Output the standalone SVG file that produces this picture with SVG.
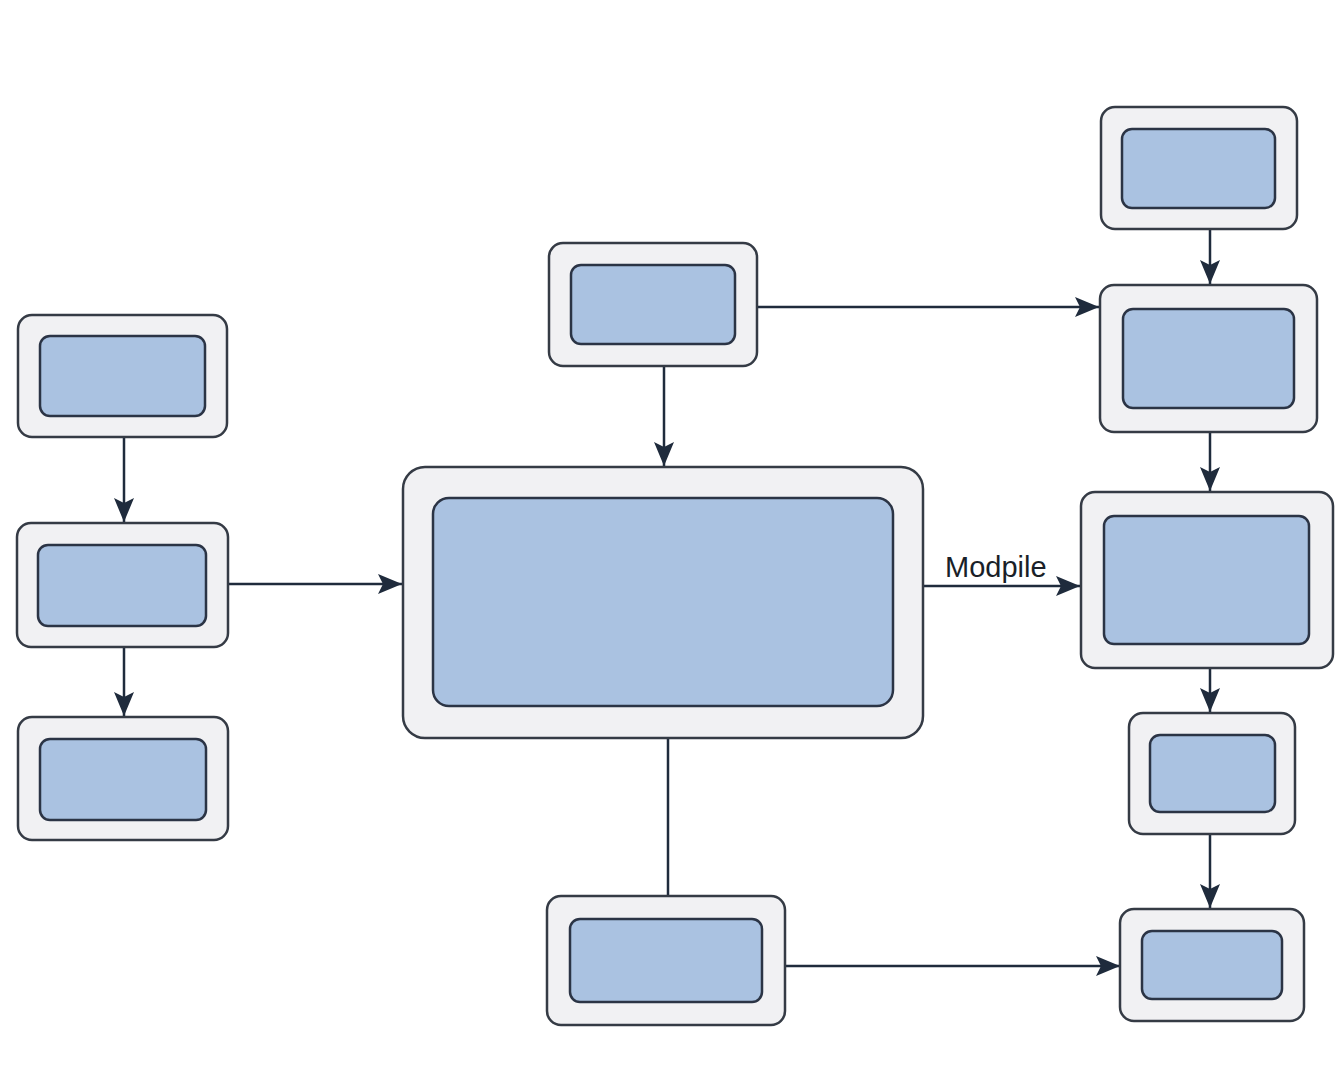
<svg xmlns="http://www.w3.org/2000/svg" width="1344" height="1092" viewBox="0 0 1344 1092">
<style>
.o{fill:#f1f1f3;stroke:#353b45;stroke-width:2.5}
.i{fill:#aac2e1;stroke:#2b3445;stroke-width:2.5}
.c{stroke:#1f2b3c;stroke-width:2.5;fill:none}
.t{font-family:"Liberation Sans",Arial,sans-serif;font-size:29px;fill:#1a1f28}
</style>
<defs>
<marker id="ah" viewBox="0 0 24 24" refX="24" refY="12" markerWidth="24" markerHeight="24" markerUnits="userSpaceOnUse" orient="auto">
<path d="M0,2 L24,12 L0,22 L5,12 z" fill="#1f2b3c"/>
</marker>
</defs>
<rect width="1344" height="1092" fill="#ffffff"/>
<g id="connectors">
<line class="c" x1="124" y1="437" x2="124" y2="522" marker-end="url(#ah)"/>
<line class="c" x1="124" y1="647" x2="124" y2="716" marker-end="url(#ah)"/>
<line class="c" x1="228" y1="584" x2="402" y2="584" marker-end="url(#ah)"/>
<line class="c" x1="664" y1="366" x2="664" y2="466" marker-end="url(#ah)"/>
<line class="c" x1="757" y1="307" x2="1099" y2="307" marker-end="url(#ah)"/>
<line class="c" x1="668" y1="738" x2="668" y2="896"/>
<line class="c" x1="785" y1="966" x2="1120" y2="966" marker-end="url(#ah)"/>
<line class="c" x1="923" y1="586" x2="1080" y2="586" marker-end="url(#ah)"/>
<line class="c" x1="1210" y1="229" x2="1210" y2="284" marker-end="url(#ah)"/>
<line class="c" x1="1210" y1="432" x2="1210" y2="491" marker-end="url(#ah)"/>
<line class="c" x1="1210" y1="668" x2="1210" y2="712" marker-end="url(#ah)"/>
<line class="c" x1="1210" y1="834" x2="1210" y2="908" marker-end="url(#ah)"/>
<text class="t" x="945" y="577">Modpile</text>
</g>
<g id="L1"><rect class="o" x="18" y="315" width="209" height="122" rx="14"/><rect class="i" x="40" y="336" width="165" height="80" rx="10"/></g>
<g id="L2"><rect class="o" x="17" y="523" width="211" height="124" rx="14"/><rect class="i" x="38" y="545" width="168" height="81" rx="10"/></g>
<g id="L3"><rect class="o" x="18" y="717" width="210" height="123" rx="14"/><rect class="i" x="40" y="739" width="166" height="81" rx="10"/></g>
<g id="center"><rect class="o" x="403" y="467" width="520" height="271" rx="22"/><rect class="i" x="433" y="498" width="460" height="208" rx="16"/></g>
<g id="top"><rect class="o" x="549" y="243" width="208" height="123" rx="14"/><rect class="i" x="571" y="265" width="164" height="79" rx="10"/></g>
<g id="bottom"><rect class="o" x="547" y="896" width="238" height="129" rx="14"/><rect class="i" x="570" y="919" width="192" height="83" rx="10"/></g>
<g id="R1"><rect class="o" x="1101" y="107" width="196" height="122" rx="14"/><rect class="i" x="1122" y="129" width="153" height="79" rx="10"/></g>
<g id="R2"><rect class="o" x="1100" y="285" width="217" height="147" rx="14"/><rect class="i" x="1123" y="309" width="171" height="99" rx="10"/></g>
<g id="R3"><rect class="o" x="1081" y="492" width="252" height="176" rx="14"/><rect class="i" x="1104" y="516" width="205" height="128" rx="10"/></g>
<g id="R4"><rect class="o" x="1129" y="713" width="166" height="121" rx="14"/><rect class="i" x="1150" y="735" width="125" height="77" rx="10"/></g>
<g id="R5"><rect class="o" x="1120" y="909" width="184" height="112" rx="14"/><rect class="i" x="1142" y="931" width="140" height="68" rx="10"/></g>
</svg>
